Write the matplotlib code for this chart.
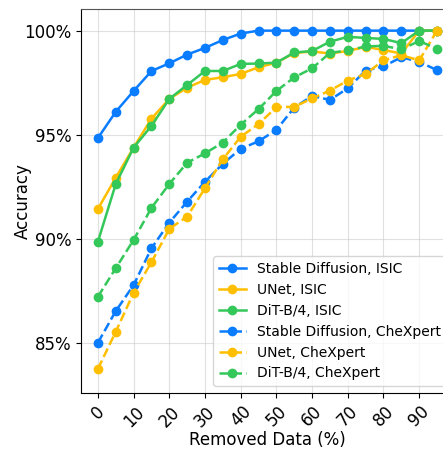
import matplotlib
matplotlib.use("Agg")
import matplotlib.pyplot as plt
from matplotlib.ticker import FuncFormatter

removed = [0, 5, 10, 15, 20, 25, 30, 35, 40, 45, 50, 55, 60, 65, 70, 75, 80, 85, 90, 95]

# ISIC
sd_isic = [94.84, 96.1, 97.1, 98.06, 98.43, 98.85, 99.17, 99.55, 99.86, 100.0,
           100.0, 100.0, 100.0, 100.0, 100.0, 100.0, 100.0, 100.0, 100.0, 100.0]
unet_isic = [91.43, 92.93, 94.38, 95.77, 96.72, 97.26, 97.63, 97.76, 97.92, 98.24,
             98.46, 98.92, 99.0, 98.9, 99.02, 99.22, 99.07, 98.9, 100.0, 100.0]
dit_isic = [89.86, 92.63, 94.38, 95.42, 96.72, 97.39, 98.06, 98.06, 98.4, 98.42,
            98.46, 98.95, 99.02, 99.47, 99.7, 99.65, 99.6, 99.4, 100.0, 100.0]

# CheXpert
sd_chex = [85.0, 86.52, 87.77, 89.54, 90.77, 91.78, 92.74, 93.6, 94.32, 94.68,
           95.23, 96.3, 96.86, 96.67, 97.23, 98.08, 98.28, 98.72, 98.5, 98.1]
unet_chex = [83.74, 85.53, 87.4, 88.87, 90.47, 91.06, 92.43, 93.82, 94.9, 95.51,
             96.32, 96.34, 96.74, 97.12, 97.6, 97.92, 98.57, 98.82, 98.57, 100.0]
dit_chex = [87.21, 88.58, 89.94, 91.48, 92.63, 93.65, 94.1, 94.62, 95.48, 96.23,
            97.1, 97.75, 98.19, 98.93, 99.05, 99.24, 99.27, 99.1, 99.5, 99.13]

blue = "#0a7cff"
yellow = "#ffbf00"
green = "#34c759"

fig = plt.figure(figsize=(4.43, 4.5), dpi=100)
ax = fig.add_axes([0.1828, 0.1267, 0.842, 0.8533])

kw = dict(marker="o", markersize=6, linewidth=1.8)
ax.plot(removed, sd_isic, color=blue, label="Stable Diffusion, ISIC", **kw)
ax.plot(removed, unet_isic, color=yellow, label="UNet, ISIC", **kw)
ax.plot(removed, dit_isic, color=green, label="DiT-B/4, ISIC", **kw)
ax.plot(removed, sd_chex, color=blue, linestyle="--", label="Stable Diffusion, CheXpert", **kw)
ax.plot(removed, unet_chex, color=yellow, linestyle="--", label="UNet, CheXpert", **kw)
ax.plot(removed, dit_chex, color=green, linestyle="--", label="DiT-B/4, CheXpert", **kw)

ax.set_xlim(-4.75, 99.75)
ax.set_ylim(82.58, 101.04)
ax.set_xticks(range(0, 100, 10))
ax.set_yticks([85, 90, 95, 100])
ax.yaxis.set_major_formatter(FuncFormatter(lambda v, p: "{}%".format(int(v))))
ax.tick_params(labelsize=12)
plt.setp(ax.get_xticklabels(), rotation=45)
ax.grid(True, color="#cccccc", alpha=0.6, linewidth=0.8)
ax.spines["top"].set_color("#555555")
ax.set_xlabel("Removed Data (%)", fontsize=12, labelpad=0.4)
ax.set_ylabel("Accuracy", fontsize=12, labelpad=-5.5)
ax.legend(loc="lower right", fontsize=10)

fig.savefig("out.png", dpi=100)
